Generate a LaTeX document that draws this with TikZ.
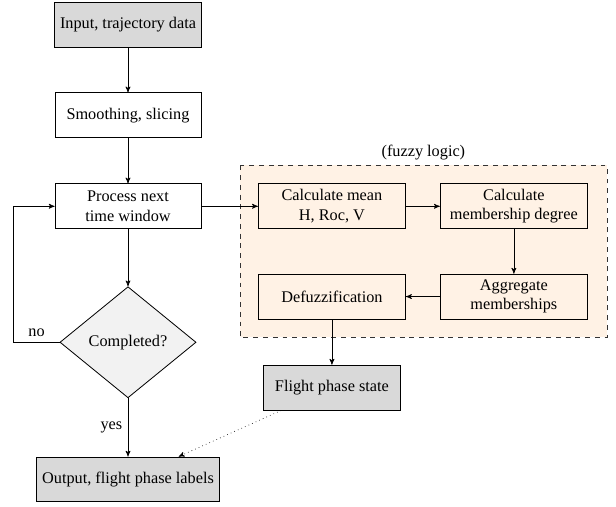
\documentclass[tikz,border=0pt]{standalone}
\usepackage{fontspec}
\setmainfont{Liberation Serif}
\usepackage{tikz}
\usetikzlibrary{shapes,arrows}
\usetikzlibrary{shapes.geometric}
\tikzstyle{io} = [draw, fill=gray!30, minimum width=3.15cm, minimum height=0.97cm, text centered]
\tikzstyle{proc} = [draw, fill=white, minimum width=3.15cm, minimum height=0.97cm, text centered, align=center]
\tikzstyle{fuzzy} = [draw, fill=orange!10, minimum width=3.18cm, minimum height=0.97cm, text centered, align=center]
\tikzstyle{decision} = [draw, diamond, fill=gray!10, minimum width=2.94cm, minimum height=2.4cm, inner sep=0pt, text centered]
\def\blockdist{1.95}
\pgfdeclarelayer{background}
\pgfdeclarelayer{foreground}
\pgfsetlayers{background,main,foreground}

\begin{document}
\begin{tikzpicture}[line width=0.5pt, >=stealth']
    \useasboundingbox (0,0) rectangle (13.306,-10.93);

    \node (input) [io] at (2.765,-0.54) {Input, trajectory data};
    \path (input)+(0,-\blockdist) node (smooth) [proc] {Smoothing, slicing};
    \path (smooth)+(0,-1.966) node (window) [proc] {Process next\\time window};
    \path (window)+(0,-2.937) node (done) [decision] {Completed?};
    \path (done)+(0,-2.963) node (output) [io, minimum width=3.95cm] {Output, flight phase labels};

    \path (window)+(4.405,0) node (mean) [fuzzy] {Calculate mean\\H, Roc, V};
    \path (mean)+(3.93,0) node (member) [fuzzy] {Calculate\\membership degree};
    \path (member)+(0,-\blockdist) node (aggr) [fuzzy] {Aggregate\\memberships};
    \path (mean)+(0,-\blockdist) node (defuzz) [fuzzy] {Defuzzification};
    \path (defuzz)+(0,-1.966) node (state) [io, minimum width=2.94cm] {Flight phase state};

    \begin{pgfonlayer}{background}
        \path (mean.north west)+(-0.39,0.39) node (a) {};
        \path (member.east |- defuzz.south)+(0.41,-0.39) node (c) {};
        \path[draw=black!80, dashed, fill=orange!10]
            (a.center) rectangle (c.center);
        \path (a.center -| c.center) node (b) {};
        \path (a.center) -- node (lbl) [above] {(fuzzy logic)} (b.center);
    \end{pgfonlayer}

    \path [draw, ->] (input) -- (smooth);
    \path [draw, ->] (smooth) -- (window);
    \path [draw, ->] (window) -- (done);
    \path [draw, ->] (done) -- node [left] {yes} (output);
    \path [draw, ->] (done.west) -- node [above] {no} ++(-0.99,0) |- (window.west);

    \path [draw, ->] (window) -- (mean);
    \path [draw, ->] (mean) -- (member);
    \path [draw, ->] (member) -- (aggr);
    \path [draw, ->] (aggr) -- (defuzz);
    \path [draw, ->] (defuzz) -- (state);
    \path [draw, ->, dotted] (state) -- (output);

\end{tikzpicture}
\end{document}
